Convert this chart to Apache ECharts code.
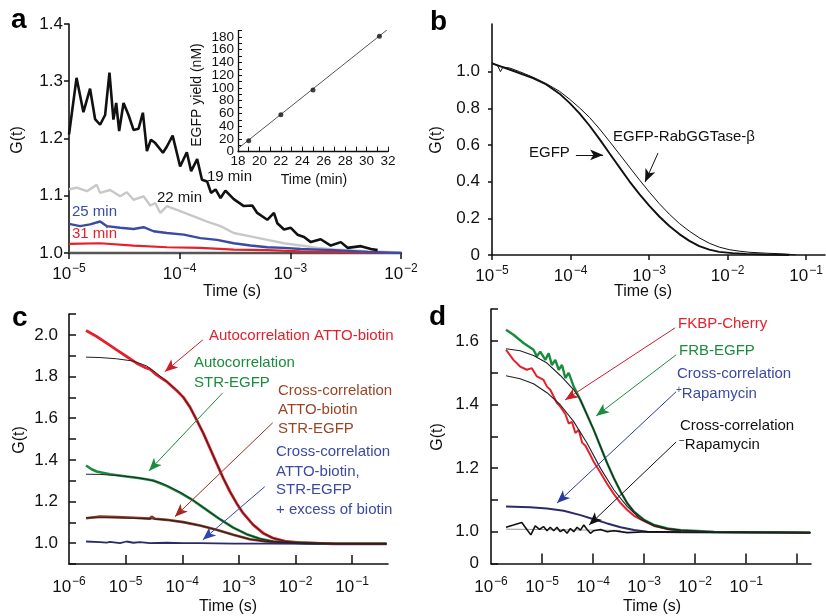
<!DOCTYPE html>
<html><head><meta charset="utf-8">
<script src="https://cdn.jsdelivr.net/npm/echarts@6/dist/echarts.min.js"></script>
<style>html,body{margin:0;padding:0;background:#fff}#main{width:826px;height:616px}</style>
</head><body><div id="main"></div>
<script>
// ---------- Panel a : G(t) at different times ----------
const a19T = [1e-5,1.17e-5,1.35e-5,1.55e-5,1.72e-5,1.91e-5,2.12e-5,2.32e-5,2.52e-5,2.67e-5,2.84e-5,3.11e-5,3.45e-5,3.83e-5,4.25e-5,4.65e-5,5.06e-5,5.5e-5,6.02e-5,7.06e-5,7.67e-5,8.64e-5,1.01e-4,1.16e-4,1.27e-4,1.44e-4,1.59e-4,1.77e-4,1.92e-4,2.11e-4,2.34e-4,2.59e-4,3.08e-4,3.8e-4,4.53e-4,5.02e-4,6.19e-4,7.11e-4,7.63e-4,8.77e-4,1.01e-3,1.16e-3,1.33e-3,1.53e-3,1.88e-3,2.32e-3,2.86e-3,3.29e-3,4.34e-3,5.35e-3,6.15e-3];
const a19G = [1.207,1.306,1.246,1.287,1.234,1.224,1.241,1.315,1.233,1.262,1.213,1.262,1.241,1.215,1.217,1.245,1.178,1.198,1.192,1.175,1.186,1.205,1.151,1.176,1.143,1.164,1.128,1.125,1.105,1.111,1.096,1.109,1.094,1.082,1.083,1.070,1.058,1.070,1.052,1.041,1.044,1.032,1.028,1.019,1.024,1.013,1.019,1.009,1.012,1.007,1.005];
const a22T = [1e-5,1.17e-5,1.45e-5,1.78e-5,1.91e-5,2.35e-5,2.9e-5,3.33e-5,3.83e-5,4.72e-5,5.42e-5,6.02e-5,6.68e-5,7.67e-5,1.01e-4,1.34e-4,1.77e-4,2.34e-4,3.08e-4,4.37e-4,6.19e-4,8.77e-4,1.24e-3,1.76e-3,2.49e-3,4.99e-3,1e-2];
const a22G = [1.111,1.114,1.108,1.119,1.105,1.110,1.099,1.106,1.093,1.099,1.083,1.087,1.070,1.082,1.073,1.064,1.055,1.047,1.035,1.029,1.023,1.017,1.013,1.009,1.006,1.003,1.001];
const a25T = [1e-5,1.26e-5,1.55e-5,1.91e-5,2.19e-5,2.9e-5,3.83e-5,4.72e-5,5.81e-5,7.67e-5,1.09e-4,1.54e-4,2.18e-4,3.08e-4,4.37e-4,6.19e-4,8.77e-4,1.24e-3,2.49e-3,4.99e-3,1e-2];
const a25G = [1.051,1.047,1.050,1.055,1.047,1.044,1.042,1.045,1.038,1.035,1.032,1.026,1.023,1.017,1.013,1.010,1.009,1.007,1.005,1.002,1.000];
const a31T = [1e-5,1.91e-5,3.83e-5,7.67e-5,1.54e-4,3.08e-4,6.19e-4,1.24e-3,2.49e-3,1e-2];
const a31G = [1.016,1.017,1.013,1.010,1.009,1.006,1.005,1.003,1.002,1.000];
// inset
const insetTime = [19,22,25,31.2];
const insetYield = [17,58,97,181];
const insetFitTime = [18,31.9];
const insetFitYield = [5,191];
// ---------- Panel b ----------
const bEgfpT = [1e-5,1.85e-5,3.32e-5,4.91e-5,7.24e-5,9.71e-5,1.30e-4,1.75e-4,2.34e-4,3.13e-4,4.20e-4,5.62e-4,7.54e-4,1.01e-3,1.35e-3,1.81e-3,2.43e-3,3.26e-3,4.36e-3,5.85e-3,7.83e-3,1.16e-2,1.71e-2,3.07e-2,6.08e-2];
const bEgfpG = [1.045,1.005,0.965,0.93,0.88,0.83,0.772,0.705,0.632,0.555,0.478,0.402,0.332,0.268,0.21,0.158,0.114,0.077,0.048,0.029,0.017,0.01,0.006,0.003,0.0];
const bRabT = [1e-5,1.19e-5,1.28e-5,1.38e-5,1.68e-5,2.25e-5,3.32e-5,4.91e-5,7.24e-5,9.71e-5,1.30e-4,1.75e-4,2.34e-4,3.13e-4,4.20e-4,5.62e-4,7.54e-4,1.01e-3,1.35e-3,1.81e-3,2.43e-3,3.26e-3,4.36e-3,5.85e-3,7.83e-3,1.05e-2,1.41e-2,1.88e-2,3.07e-2,4.54e-2,6.08e-2,7.4e-2];
const bRabG = [1.05,1.03,1.0,1.025,1.02,1.0,0.97,0.935,0.893,0.85,0.803,0.75,0.688,0.62,0.55,0.48,0.41,0.343,0.28,0.223,0.172,0.13,0.094,0.064,0.043,0.029,0.021,0.015,0.01,0.007,0.004,0.0];
// ---------- Panel c ----------
const cAttoT = [2.0e-6,3.08e-6,4.62e-6,6.94e-6,1.04e-5,1.56e-5,2.35e-5,2.69e-5,3.52e-5,5.29e-5,7.94e-5,1.04e-4,1.37e-4,1.79e-4,2.35e-4,3.08e-4,4.03e-4,5.29e-4,6.94e-4,9.10e-4,1.19e-3,1.79e-3,2.69e-3,4.03e-3,6.94e-3,1.19e-2,4.62e-2,0.403];
const cAttoG = [2.021,1.992,1.96,1.928,1.896,1.864,1.84,1.835,1.808,1.776,1.733,1.701,1.653,1.592,1.528,1.456,1.384,1.312,1.248,1.192,1.144,1.088,1.048,1.024,1.008,1.003,0.997,0.997];
const cAttoFitT = [2.0e-6,3.52e-6,6.94e-6,1.37e-5,2.35e-5,3.52e-5,5.29e-5,7.94e-5,1.04e-4,1.37e-4,1.79e-4,2.35e-4,3.08e-4,4.03e-4,5.29e-4,6.94e-4,9.10e-4,1.19e-3,1.79e-3,2.69e-3,4.03e-3,6.94e-3,1.19e-2,4.62e-2,0.403];
const cAttoFitG = [1.893,1.891,1.885,1.874,1.851,1.816,1.776,1.736,1.701,1.653,1.592,1.528,1.456,1.384,1.312,1.248,1.192,1.144,1.088,1.048,1.024,1.008,1.002,0.998,0.997];
const cStrT = [2.0e-6,2.51e-6,3.08e-6,5.29e-6,1.04e-5,1.11e-5,1.79e-5,3.08e-5,5.29e-5,9.10e-5,1.56e-4,2.69e-4,4.62e-4,7.94e-4,1.37e-3,2.35e-3,4.03e-3,6.94e-3,2.35e-2,0.403];
const cStrG = [1.373,1.355,1.344,1.331,1.32,1.328,1.312,1.301,1.275,1.243,1.205,1.16,1.115,1.075,1.043,1.021,1.008,1.003,0.998,0.997];
const cStrFitT = [2.0e-6,3.52e-6,6.94e-6,1.37e-5,2.35e-5,4.04e-5,5.29e-5,9.10e-5,1.56e-4,2.69e-4,4.62e-4,7.94e-4,1.37e-3,2.35e-3,4.03e-3,6.94e-3,2.35e-2,0.403];
const cStrFitG = [1.331,1.33,1.325,1.317,1.307,1.291,1.277,1.245,1.206,1.16,1.115,1.075,1.043,1.021,1.008,1.003,0.998,0.997];
const cCrossT = [2.0e-6,3.52e-6,6.94e-6,1.37e-5,2.69e-5,2.88e-5,3.3e-5,5.29e-5,1.04e-4,2.05e-4,4.03e-4,7.94e-4,1.56e-3,3.08e-3,6.94e-3,4.62e-2,0.403];
const cCrossG = [1.12,1.128,1.125,1.122,1.118,1.128,1.117,1.112,1.101,1.085,1.064,1.04,1.019,1.008,1.003,0.998,0.997];
const cCrossFitT = [2.0e-6,6.94e-6,2.69e-5,5.29e-5,1.04e-4,2.05e-4,4.03e-4,7.94e-4,1.56e-3,3.08e-3,6.94e-3,4.62e-2,0.403];
const cCrossFitG = [1.122,1.122,1.117,1.112,1.101,1.085,1.064,1.04,1.019,1.008,1.003,0.998,0.997];
const cBiotinT = [2.0e-6,3.52e-6,4.62e-6,5.29e-6,7.94e-6,1.04e-5,1.37e-5,1.79e-5,2.69e-5,5.29e-5,1.04e-4,2.05e-4,7.94e-4,3.08e-3,4.62e-2,0.403];
const cBiotinG = [1.008,1.005,1.003,1.006,1.0,1.008,1.002,1.005,1.0,1.002,1.0,1.0,0.998,0.998,0.997,0.997];
// ---------- Panel d ----------
const dFrbT = [1.97e-6,2.75e-6,4.33e-6,6.81e-6,7.93e-6,9.22e-6,1.16e-5,1.35e-5,1.56e-5,1.82e-5,2.12e-5,2.46e-5,2.86e-5,3.33e-5,4.18e-5,5.65e-5,7.64e-5,1.03e-4,1.40e-4,1.89e-4,2.56e-4,3.46e-4,4.69e-4,6.34e-4,9.97e-4,1.57e-3,2.87e-3,5.25e-3,1.12e-2,2.38e-2,0.108,1.8];
const dFrbG = [1.635,1.619,1.593,1.572,1.551,1.566,1.540,1.561,1.524,1.540,1.509,1.524,1.483,1.499,1.456,1.414,1.367,1.320,1.267,1.215,1.168,1.126,1.089,1.063,1.037,1.021,1.010,1.005,1.002,0.999,0.998,0.997];
const dFrbFitT = [1.97e-6,3.72e-6,6.81e-6,1.25e-5,2.28e-5,4.18e-5,5.65e-5,7.64e-5,1.03e-4,1.40e-4,1.89e-4,2.56e-4,3.46e-4,4.69e-4,6.34e-4,9.97e-4,1.57e-3,2.87e-3,5.25e-3,1.12e-2,2.38e-2,0.108,1.8];
const dFrbFitG = [1.575,1.569,1.554,1.530,1.491,1.446,1.414,1.367,1.320,1.267,1.215,1.168,1.126,1.089,1.063,1.037,1.021,1.010,1.005,1.002,0.999,0.998,0.997];
const dFkbpT = [1.97e-6,2.75e-6,3.72e-6,5.04e-6,6.32e-6,7.93e-6,1.07e-5,1.25e-5,1.45e-5,1.69e-5,1.96e-5,2.28e-5,2.86e-5,3.33e-5,3.87e-5,4.5e-5,5.24e-5,6.09e-5,7.08e-5,8.89e-5,1.03e-4,1.40e-4,1.89e-4,2.56e-4,3.46e-4,4.69e-4,6.34e-4,9.97e-4,1.57e-3,2.87e-3,5.25e-3,2.38e-2,1.8];
const dFkbpG = [1.572,1.540,1.519,1.509,1.514,1.488,1.477,1.456,1.446,1.425,1.404,1.393,1.37,1.34,1.345,1.31,1.32,1.28,1.27,1.24,1.22,1.185,1.15,1.118,1.09,1.068,1.05,1.033,1.018,1.008,1.003,0.999,0.997];
const dFkbpFitT = [1.97e-6,3.72e-6,6.81e-6,1.25e-5,2.28e-5,4.18e-5,7.64e-5,1.40e-4,2.56e-4,4.69e-4,8.57e-4,1.57e-3,2.87e-3,5.25e-3,2.38e-2,1.8];
const dFkbpFitG = [1.490,1.481,1.465,1.437,1.399,1.346,1.278,1.199,1.131,1.079,1.039,1.018,1.008,1.003,0.999,0.997];
const dPlusT = [1.97e-6,5.86e-6,1.25e-5,2.65e-5,5.65e-5,1.03e-4,1.89e-4,3.46e-4,6.34e-4,1.16e-3,5.25e-3,1.8];
const dPlusG = [1.079,1.077,1.073,1.066,1.052,1.039,1.026,1.014,1.005,1.0,0.998,0.997];
const dMinusT = [1.97e-6,2.75e-6,4.01e-6,5.04e-6,6.04e-6,7.35e-6,8.94e-6,1.07e-5,1.25e-5,1.45e-5,1.69e-5,1.96e-5,2.28e-5,2.65e-5,3.09e-5,3.59e-5,4.18e-5,4.86e-5,5.65e-5,6.58e-5,7.64e-5,8.89e-5,1.03e-4,1.40e-4,1.89e-4,2.56e-4,4.69e-4,1.16e-3,5.25e-3,1.8];
const dMinusG = [1.014,1.021,1.029,1.007,0.990,1.018,1.007,1.016,1.003,1.014,1.003,1.014,1.0,1.007,0.995,1.010,1.0,1.014,1.005,1.021,1.007,0.995,1.003,1.007,1.0,1.003,0.997,1.0,0.999,0.997];
const dBaseT = [1.97e-6,3.5e-4];
const dBaseG = [1.008,1.004];

// ---------- tick values ----------
const aXTicks = [1e-5,1e-4,1e-3,1e-2];
const bXTicks = [1e-5,1e-4,1e-3,1e-2,1e-1];
const bYTicks = [0,0.2,0.4,0.6,0.8,1.0];
const cXTicks = [1e-6,1e-5,1e-4,1e-3,1e-2,1e-1];
const dXTickMarks = [1e-6,1e-5,1e-4,1e-3,1e-2,1e-1,1];
const dXLabels = [1e-6,1e-5,1e-4,1e-3,1e-2,1e-1];

const FONT = '"Liberation Sans", Arial, Helvetica, sans-serif';
const zip = (xs, ys) => xs.map((x, i) => [x, ys[i]]);
const rich = {
  b: {fontSize: 17, fontFamily: FONT, color: '#111', lineHeight: 20, verticalAlign: 'bottom'},
  s: {fontSize: 12, fontFamily: FONT, color: '#111', lineHeight: 12, verticalAlign: 'top', padding: [0, 0, 0, 1]}
};
function logLabel(v) {
  const e = Math.round(Math.log10(v));
  return '{b|10}{s|\u2212' + Math.abs(e) + '}';
}
function logX(grid, min, max, ticks, labels, inside, tickLen, lineColor, lineWidth) {
  return {
    gridIndex: grid, type: 'log', logBase: 10, min: min, max: max,
    axisLine: {lineStyle: {color: lineColor || '#111', width: lineWidth || 1.6}},
    axisTick: {inside: inside, length: tickLen, lineStyle: {color: '#111', width: 1.5}, customValues: ticks},
    axisLabel: {customValues: labels, formatter: logLabel, rich: rich, margin: inside ? 12 : 10},
    splitLine: {show: false}, minorTick: {show: false}, minorSplitLine: {show: false}
  };
}
function line(xi, data, color, width, z) {
  return {type: 'line', xAxisIndex: xi, yAxisIndex: xi, data: data, showSymbol: false, symbol: 'none',
    lineStyle: {color: color, width: width}, silent: true, animation: false, z: z || 2, clip: true};
}
function arrows(xi, list) {
  return {type: 'line', xAxisIndex: xi, yAxisIndex: xi, data: [], silent: true, animation: false, z: 5,
    markLine: {silent: true, animation: false, symbol: ['none', 'arrow'], symbolSize: [8, 13],
      label: {show: false}, emphasis: {disabled: true},
      data: list.map(a => [{coord: a[0], lineStyle: {color: a[2], width: 1, type: 'solid'}, itemStyle: {color: a[2]}}, {coord: a[1]}])}};
}
function txt(x, y, s, color, size, extra) {
  return Object.assign({type: 'text', x: x, y: y, silent: true,
    style: {text: s, fill: color || '#111', font: (size || 15) + 'px ' + FONT, align: 'left', verticalAlign: 'middle'}}, extra || {});
}
function vtxt(x, y, s, size) {
  return {type: 'text', x: x, y: y, rotation: Math.PI / 2, silent: true,
    style: {text: s, fill: '#111', font: (size || 16) + 'px ' + FONT, align: 'center', verticalAlign: 'middle'}};
}
function ctxt(x, y, s, size) {
  return {type: 'text', x: x, y: y, silent: true,
    style: {text: s, fill: '#111', font: (size || 16) + 'px ' + FONT, align: 'center', verticalAlign: 'middle'}};
}
function bold(x, y, s) {
  return {type: 'text', x: x, y: y, silent: true,
    style: {text: s, fill: '#000', font: 'bold 28px ' + FONT, align: 'left', verticalAlign: 'middle'}};
}
const yLabelStyle = {fontSize: 17, fontFamily: FONT, color: '#111'};

const chart = echarts.init(document.getElementById('main'), null, {renderer: 'canvas'});
const RED = '#e3202c', GREEN = '#1b8c3e', BLUE = '#3b4aa3', BROWN = '#8e3623', NAVY = '#2a2b68';
chart.setOption({
  animation: false,
  backgroundColor: '#fff',
  grid: [
    {left: 69, top: 24, width: 332, height: 229},
    {left: 238, top: 30.6, width: 150, height: 121.1},
    {left: 492, top: 24, width: 333, height: 231},
    {left: 69, top: 314, width: 319, height: 250},
    {left: 491, top: 309, width: 320, height: 254.5}
  ],
  xAxis: [
    logX(0, 1e-5, 1e-2, aXTicks, aXTicks, false, 6, '#555', 2.4),
    {gridIndex: 1, type: 'value', min: 18, max: 32, interval: 1,
      axisLine: {lineStyle: {color: '#111', width: 1.3}},
      axisTick: {inside: true, length: 5, lineStyle: {color: '#111'}},
      axisLabel: {fontSize: 13.5, fontFamily: FONT, color: '#111', margin: 3, formatter: v => (v % 2 === 0 ? String(v) : '')},
      splitLine: {show: false}},
    logX(2, 1e-5, 0.174, bXTicks, bXTicks, false, 5),
    logX(3, 1e-6, 0.43, cXTicks.slice(1), cXTicks, true, 9),
    logX(4, 1e-6, 1.86, dXTickMarks.slice(1), dXLabels, true, 10)
  ],
  yAxis: [
    {gridIndex: 0, type: 'value', min: 1.0, max: 1.4, interval: 0.1,
      axisLine: {show: true, lineStyle: {color: '#111', width: 1.6}},
      axisTick: {show: true, inside: false, length: 5, lineStyle: {color: '#111', width: 1.5}},
      axisLabel: Object.assign({margin: 6, formatter: v => v.toFixed(1)}, yLabelStyle),
      splitLine: {show: false}},
    {gridIndex: 1, type: 'value', min: 0, max: 190, interval: 10,
      axisLine: {show: true, lineStyle: {color: '#111', width: 1.3}},
      axisTick: {show: true, inside: true, length: 4, lineStyle: {color: '#111'}},
      axisLabel: {fontSize: 13.5, fontFamily: FONT, color: '#111', margin: 4, lineHeight: 12,
        formatter: v => (Math.round(v) % 20 === 0 ? String(Math.round(v)) : '')},
      splitLine: {show: false}},
    {gridIndex: 2, type: 'value', min: 0, max: 1.26,
      axisLine: {show: true, lineStyle: {color: '#111', width: 1.6}},
      axisTick: {show: true, inside: false, length: 4, customValues: bYTicks, lineStyle: {color: '#111', width: 1.5}},
      axisLabel: Object.assign({margin: 12, customValues: bYTicks, formatter: v => (v === 0 ? '0' : v.toFixed(1))}, yLabelStyle),
      splitLine: {show: false}},
    {gridIndex: 3, type: 'value', min: 0.9, max: 2.1, interval: 0.1,
      axisLine: {show: true, lineStyle: {color: '#111', width: 1.6}},
      axisTick: {show: true, inside: true, length: 7, lineStyle: {color: '#111', width: 1.5}},
      axisLabel: Object.assign({margin: 11, formatter: v => { const k = Math.round(v * 10); return k % 2 === 0 ? (k / 10).toFixed(1) : ''; }}, yLabelStyle),
      splitLine: {show: false}},
    {gridIndex: 4, type: 'value', min: 0.9, max: 1.7, interval: 0.1,
      axisLine: {show: true, lineStyle: {color: '#111', width: 1.6}},
      axisTick: {show: true, inside: true, length: 7, lineStyle: {color: '#111', width: 1.5}},
      axisLabel: Object.assign({margin: 12, formatter: v => { const k = Math.round(v * 10); return k === 9 ? '0' : (k % 2 === 0 ? (k / 10).toFixed(1) : ''); }}, yLabelStyle),
      splitLine: {show: false}}
  ],
  series: [
    // panel a
    line(0, zip(a31T, a31G), RED, 2.2, 2),
    line(0, zip(a25T, a25G), BLUE, 2.4, 3),
    line(0, zip(a22T, a22G), '#c8c8c8', 2.4, 2),
    line(0, zip(a19T, a19G), '#111', 2.6, 4),
    // inset
    line(1, zip(insetFitTime, insetFitYield), '#555', 1, 2),
    {type: 'scatter', xAxisIndex: 1, yAxisIndex: 1, data: zip(insetTime, insetYield), symbolSize: 5,
      itemStyle: {color: '#111'}, silent: true, animation: false, z: 3},
    // panel b
    line(2, zip(bRabT, bRabG), '#111', 1, 2),
    line(2, zip(bEgfpT, bEgfpG), '#111', 1.9, 3),
    arrows(2, [
      [[1.17e-4, 0.546], [2.6e-4, 0.546], '#111'],
      [[1.30e-3, 0.556], [8.9e-4, 0.398], '#111']
    ]),
    // panel c
    line(3, zip(cAttoT, cAttoG), RED, 2.8, 2),
    line(3, zip(cAttoFitT, cAttoFitG), '#222', 1, 3),
    line(3, zip(cStrT, cStrG), GREEN, 2.6, 2),
    line(3, zip(cStrFitT, cStrFitG), '#222', 1, 3),
    line(3, zip(cCrossT, cCrossG), BROWN, 2.6, 2),
    line(3, zip(cCrossFitT, cCrossFitG), '#222', 1, 3),
    line(3, zip(cBiotinT, cBiotinG), NAVY, 1.8, 2),
    arrows(3, [
      [[2.31e-4, 1.976], [4.93e-5, 1.823], '#c8202a'],
      [[5.2e-4, 1.722], [2.58e-5, 1.347], GREEN],
      [[3.96e-3, 1.578], [7.4e-5, 1.127], '#a02a20'],
      [[2.86e-3, 1.271], [2.31e-4, 1.016], '#3344b0']
    ]),
    // panel d
    line(4, zip(dPlusT, dPlusG), NAVY, 2, 2),
    line(4, zip(dBaseT, dBaseG), '#999', 1, 2),
    line(4, zip(dMinusT, dMinusG), '#111', 1.6, 3),
    line(4, zip(dFkbpT, dFkbpG), RED, 2, 2),
    line(4, zip(dFrbT, dFrbG), GREEN, 2.4, 2),
    line(4, zip(dFkbpFitT, dFkbpFitG), '#222', 1.1, 3),
    line(4, zip(dFrbFitT, dFrbFitG), '#222', 1.1, 3),
    arrows(4, [
      [[4.06e-3, 1.641], [2.83e-5, 1.414], '#c8202a'],
      [[4.24e-3, 1.556], [1.15e-4, 1.364], GREEN],
      [[4.24e-3, 1.44], [1.97e-5, 1.09], '#2a3aa0'],
      [[4.24e-3, 1.282], [8.36e-5, 1.021], '#111']
    ])
  ],
  graphic: [
    bold(11, 20, 'a'), bold(430, 22, 'b'), bold(12, 318, 'c'), bold(429, 317, 'd'),
    vtxt(18, 140, 'G(t)'), vtxt(437, 140, 'G(t)'), vtxt(20, 440, 'G(t)'), vtxt(438, 437, 'G(t)'),
    ctxt(232, 292, 'Time (s)'), ctxt(643, 292, 'Time (s)'), ctxt(228, 607, 'Time (s)'), ctxt(652, 607, 'Time (s)'),
    vtxt(197, 95, 'EGFP yield (nM)', 14), ctxt(314, 180, 'Time (min)', 14),
    txt(207, 177, '19 min', '#111'), txt(157, 198, '22 min', '#111'),
    txt(72, 212, '25 min', BLUE), txt(72, 234, '31 min', RED),
    txt(529, 153, 'EGFP', '#111'), txt(613, 137, 'EGFP-RabGGTase-\u03b2', '#111'),
    txt(209, 336, 'Autocorrelation ATTO-biotin', RED),
    txt(194, 363, 'Autocorrelation', GREEN), txt(194, 383, 'STR-EGFP', GREEN),
    txt(278, 391, 'Cross-correlation', '#9b4527'), txt(278, 410, 'ATTO-biotin', '#9b4527'), txt(278, 429, 'STR-EGFP', '#9b4527'),
    txt(276, 452, 'Cross-correlation', BLUE), txt(276, 472, 'ATTO-biotin,', BLUE), txt(276, 490, 'STR-EGFP', BLUE), txt(276, 510, '+ excess of biotin', BLUE),
    txt(678, 324, 'FKBP-Cherry', RED), txt(679, 351, 'FRB-EGFP', GREEN),
    txt(677, 374, 'Cross-correlation', BLUE),
    {type: 'text', x: 676, y: 394, silent: true, style: {text: '{p|+}{t|Rapamycin}', align: 'left', verticalAlign: 'middle',
      rich: {p: {fontSize: 10, fontFamily: FONT, fill: BLUE, verticalAlign: 'top', lineHeight: 10}, t: {fontSize: 15, fontFamily: FONT, fill: BLUE, lineHeight: 18}}}},
    txt(680, 426, 'Cross-correlation', '#111'),
    {type: 'text', x: 679, y: 445, silent: true, style: {text: '{p|\u2212}{t|Rapamycin}', align: 'left', verticalAlign: 'middle',
      rich: {p: {fontSize: 10, fontFamily: FONT, fill: '#111', verticalAlign: 'top', lineHeight: 10}, t: {fontSize: 15, fontFamily: FONT, fill: '#111', lineHeight: 18}}}}
  ]
});
</script></body></html>
